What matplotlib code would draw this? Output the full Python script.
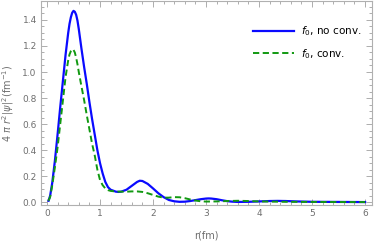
import numpy as np
from matplotlib import pyplot as plt
from matplotlib.ticker import MultipleLocator

# radial density
r_noconv = [0.03, 0.06, 0.1, 0.15, 0.2, 0.25, 0.3, 0.35, 0.4, 0.425, 0.45, 0.475, 0.5, 0.525, 0.55,
            0.575, 0.6, 0.65, 0.7, 0.75, 0.8, 0.85, 0.9, 0.95, 1.0, 1.05, 1.1, 1.15, 1.2, 1.3,
            1.35, 1.4, 1.5, 1.6, 1.7, 1.75, 1.8, 1.9, 2.0, 2.1, 2.2, 2.3, 2.4, 2.5, 2.6, 2.7,
            2.8, 2.9, 3.0, 3.05, 3.1, 3.2, 3.3, 3.4, 3.5, 3.6, 3.8, 4.0, 4.2, 4.35, 4.5, 4.7,
            5.0, 5.5, 6.0]
dens_noconv = [0.01, 0.05, 0.15, 0.32, 0.52, 0.73, 0.93, 1.13, 1.30, 1.37, 1.42, 1.455, 1.47, 1.463, 1.44,
               1.395, 1.33, 1.18, 1.04, 0.91, 0.77, 0.64, 0.52, 0.40, 0.30, 0.22, 0.155, 0.115, 0.095, 0.08,
               0.078, 0.08, 0.095, 0.125, 0.155, 0.164, 0.162, 0.14, 0.105, 0.068, 0.038, 0.016, 0.006, 0.002, 0.003, 0.008,
               0.015, 0.022, 0.027, 0.028, 0.027, 0.022, 0.014, 0.007, 0.003, 0.001, 0.002, 0.005, 0.008, 0.009, 0.008, 0.005,
               0.002, 0.001, 0.0]

r_conv = [0.03, 0.06, 0.1, 0.15, 0.2, 0.25, 0.3, 0.35, 0.4, 0.425, 0.45, 0.475, 0.5, 0.525, 0.55,
          0.575, 0.6, 0.65, 0.7, 0.75, 0.8, 0.85, 0.9, 0.95, 1.0, 1.05, 1.1, 1.15, 1.2, 1.3,
          1.4, 1.5, 1.6, 1.7, 1.8, 1.9, 2.0, 2.1, 2.2, 2.3, 2.4, 2.5, 2.6, 2.7, 2.8, 2.9,
          3.0, 3.2, 3.4, 3.6, 3.8, 4.0, 4.5, 5.0, 6.0]
dens_conv = [0.01, 0.04, 0.13, 0.27, 0.42, 0.60, 0.78, 0.96, 1.09, 1.135, 1.16, 1.175, 1.17, 1.15, 1.11,
             1.06, 1.00, 0.89, 0.785, 0.67, 0.56, 0.45, 0.36, 0.25, 0.17, 0.13, 0.105, 0.092, 0.086, 0.081,
             0.08, 0.08, 0.082, 0.082, 0.078, 0.068, 0.055, 0.042, 0.034, 0.034, 0.038, 0.037, 0.03, 0.02, 0.012, 0.006,
             0.004, 0.005, 0.008, 0.01, 0.008, 0.005, 0.002, 0.001, 0.0]

fig = plt.figure(figsize=(3.74, 2.45), dpi=100)
ax = fig.add_axes([0.1096, 0.163, 0.885, 0.833])

ax.plot(r_noconv, dens_noconv, color='#0a0aff', lw=1.6, label=r'$f_0$, no conv.')
ax.plot(r_conv, dens_conv, color='#119911', lw=1.4, ls=(0, (3.2, 1.8)), label=r'$f_0$, conv.')

ax.set_xlim(-0.113, 6.13)
ax.set_ylim(-0.023, 1.546)
ax.xaxis.set_major_locator(MultipleLocator(1))
ax.xaxis.set_minor_locator(MultipleLocator(0.2))
ax.yaxis.set_major_locator(MultipleLocator(0.2))
ax.yaxis.set_minor_locator(MultipleLocator(0.05))
ax.yaxis.set_major_formatter(plt.FuncFormatter(lambda v, p: f'{v:.1f}'))

for s in ax.spines.values():
	s.set_color('#b0b0b0')
	s.set_linewidth(0.8)
ax.tick_params(which='both', direction='in', top=True, right=True, colors='#a0a0a0',
	labelcolor='#6e6e6e', labelsize=6.5, width=0.6, pad=3)
ax.tick_params(which='major', length=4)
ax.tick_params(which='minor', length=2)

ax.set_xlabel('r(fm)', color='#6e6e6e', fontsize=7, labelpad=9)
ax.set_ylabel(r'4 $\pi$ $r^2|\psi|^2$(fm$^{-1}$)', color='#6e6e6e', fontsize=7, labelpad=5)

# legend sits inside the frame, top right
leg = ax.legend(loc='upper right', bbox_to_anchor=(0.995, 0.93), frameon=False, fontsize=7.5,
	handlelength=4.0, handletextpad=0.6, labelspacing=0.8)

fig.savefig('out.png', dpi=100)
